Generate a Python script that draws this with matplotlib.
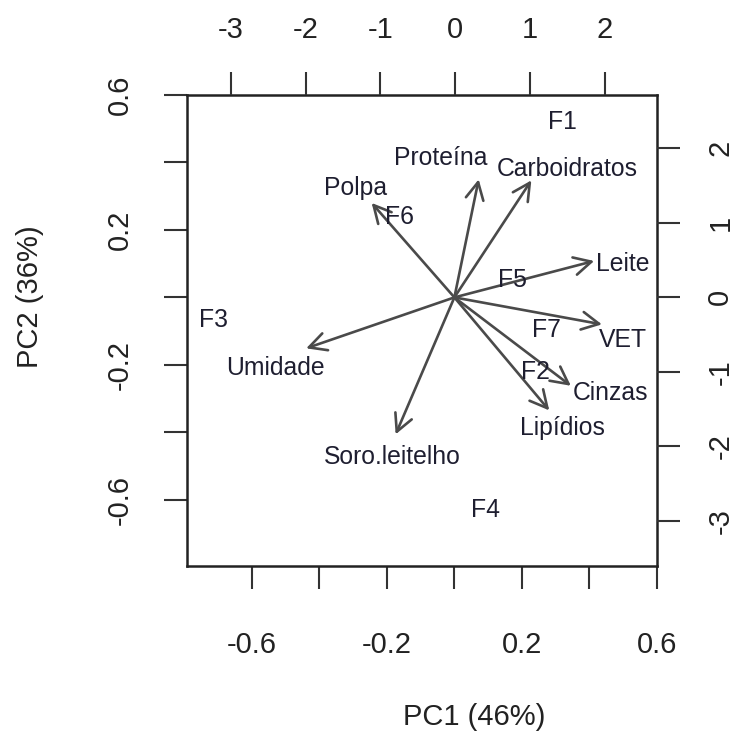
import numpy as np
import matplotlib.pyplot as plt

plt.rcParams['font.family'] = ['Liberation Sans', 'DejaVu Sans']
plt.rcParams['axes.unicode_minus'] = False

# variable loadings (arrow tips, bottom/left axes)
variaveis = ['Proteína', 'Carboidratos', 'Polpa', 'Leite', 'VET',
             'Cinzas', 'Lipídios', 'Soro.leitelho', 'Umidade']
load_x = [0.072, 0.228, -0.245, 0.414, 0.437, 0.345, 0.281, -0.174, -0.439]
load_y = [0.350, 0.347, 0.280, 0.108, -0.080, -0.262, -0.335, -0.406, -0.151]
# where the variable names sit
lab_x = [-0.041, 0.333, -0.292, 0.499, 0.499, 0.461, 0.319, -0.183, -0.529]
lab_y = [0.412, 0.382, 0.323, 0.098, -0.127, -0.284, -0.388, -0.474, -0.210]

# sample scores (top/right axes)
amostras = ['F1', 'F2', 'F3', 'F4', 'F5', 'F6', 'F7']
score_x = [1.43, 1.08, -3.24, 0.40, 0.76, -0.74, 1.22]
score_y = [2.35, -1.01, -0.31, -2.86, 0.23, 1.07, -0.44]

x_ticks = [-0.6, -0.4, -0.2, 0.0, 0.2, 0.4, 0.6]
x_ticklabels = ['-0.6', '', '-0.2', '', '0.2', '', '0.6']
y_ticks = [-0.6, -0.4, -0.2, 0.0, 0.2, 0.4, 0.6]
y_ticklabels = ['-0.6', '', '-0.2', '', '0.2', '', '0.6']
s_ticks_x = [-3, -2, -1, 0, 1, 2]
s_ticks_y = [-3, -2, -1, 0, 1, 2]

cor_txt = '#1e1e30'
cor_eixo = '#333333'
tam = 17.8

fig = plt.figure(figsize=(7.39, 7.51), dpi=100)
pos = [0.253, 0.246, 0.636, 0.6275]
ax = fig.add_axes(pos)
ax.set_xlim(-0.792, 0.597)
ax.set_ylim(-0.797, 0.598)

for x, y in zip(load_x, load_y):
    ax.annotate('', xy=(x, y), xytext=(0, 0),
                arrowprops=dict(arrowstyle='->, head_length=0.62, head_width=0.32',
                                color='#4a4a4a', lw=1.9, mutation_scale=20,
                                shrinkA=0, shrinkB=0))
for nome, x, y in zip(variaveis, lab_x, lab_y):
    ax.text(x, y, nome, ha='center', va='center', fontsize=tam, color=cor_txt)

ax.set_xticks(x_ticks)
ax.set_xticklabels(x_ticklabels)
ax.set_yticks(y_ticks)
ax.set_yticklabels(y_ticklabels)
ax.tick_params(axis='x', length=16.5, width=1.5, color=cor_eixo, pad=30,
               labelsize=21, labelcolor='#222222')
ax.tick_params(axis='y', length=16.5, width=1.5, color=cor_eixo, pad=22,
               labelsize=21, labelcolor='#222222', labelrotation=90)
for lab in ax.get_yticklabels():
    lab.set_va('center')
for sp in ax.spines.values():
    sp.set_linewidth(1.8)
    sp.set_color('#222222')

ax2 = fig.add_axes(pos, frameon=False)
ax2.set_xlim(-3.59, 2.70)
ax2.set_ylim(-3.61, 2.71)
ax2.xaxis.tick_top()
ax2.yaxis.tick_right()
ax2.set_xticks(s_ticks_x)
ax2.set_yticks(s_ticks_y)
ax2.tick_params(axis='x', length=16.5, width=1.5, color=cor_eixo, pad=20,
                labelsize=21, labelcolor='#222222')
ax2.tick_params(axis='y', length=16.5, width=1.5, color=cor_eixo, pad=19,
                labelsize=21, labelcolor='#222222', labelrotation=90)
for lab in ax2.get_yticklabels():
    lab.set_va('center')
for nome, x, y in zip(amostras, score_x, score_y):
    ax2.text(x, y, nome, ha='center', va='center', fontsize=tam, color=cor_txt)

fig.text(474 / 739, 1 - 717 / 751, 'PC1 (46%)', ha='center', va='center',
         fontsize=21, color='#222222')
fig.text(30 / 739, 1 - 297 / 751, 'PC2 (36%)', ha='center', va='center',
         fontsize=21, color='#222222', rotation=90)

fig.savefig('out.png', dpi=100)
